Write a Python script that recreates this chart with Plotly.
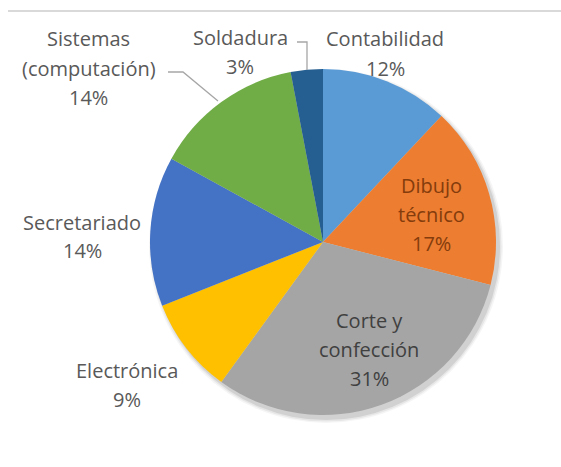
import plotly.graph_objects as go

# ---- data ----
categories = ["Contabilidad", "Dibujo técnico", "Corte y confección", "Electrónica",
              "Secretariado", "Sistemas (computación)", "Soldadura"]
values = [12, 17, 31, 9, 14, 14, 3]
colors = ["#5B9BD5", "#ED7D31", "#A5A5A5", "#FFC000", "#4472C4", "#70AD47", "#255E91"]
label_lines = [
    ["Contabilidad", "12%"],
    ["Dibujo", "técnico", "17%"],
    ["Corte y", "confección", "31%"],
    ["Electrónica", "9%"],
    ["Secretariado", "14%"],
    ["Sistemas", "(computación)", "14%"],
    ["Soldadura", "3%"],
]

W, H = 561, 467
CX, CY, R = 323, 242, 173  # pie placement in pixels


def px(x):
    return x / W


def py(y):
    return 1 - y / H


fig = go.Figure()

fig.add_trace(go.Pie(
    labels=categories,
    values=values,
    sort=False,
    direction="clockwise",
    rotation=0,
    marker=dict(colors=colors, line=dict(width=0)),
    textinfo="none",
    hoverinfo="label+percent",
    showlegend=False,
    domain=dict(x=[px(CX - R), px(CX + R)], y=[py(CY + R), py(CY - R)]),
))

# label placement (pixel centres of the text blocks), line spacing ~29px
label_pos = [
    (385, 39, "#595959"),
    (431, 185, "#843C0C"),
    (369, 320, "#404040"),
    (127, 370, "#595959"),
    (82, 222, "#595959"),
    (89, 39, "#595959"),
    (240, 38, "#595959"),
]
annotations = []
for lines, (x0, y0, col) in zip(label_lines, label_pos):
    for i, t in enumerate(lines):
        annotations.append(dict(
            x=px(x0), y=py(y0 + i * 29), xref="paper", yref="paper",
            text=t, showarrow=False, xanchor="center", yanchor="middle",
            font=dict(family="Open Sans", size=20, color=col),
        ))

shapes = []
# soft shadow under the pie
for k, op in [(8, 0.04), (5, 0.06), (2, 0.09)]:
    shapes.append(dict(
        type="circle", xref="paper", yref="paper", layer="below",
        x0=px(CX - R + 3 - k / 2), x1=px(CX + R + 3 + k / 2),
        y0=py(CY + R + 4 + k / 2), y1=py(CY - R + 4 - k / 2),
        fillcolor=f"rgba(0,0,0,{op})", line=dict(width=0),
    ))
# top border line
shapes.append(dict(type="line", xref="paper", yref="paper",
                   x0=px(8), x1=1, y0=py(11), y1=py(11),
                   line=dict(color="#D9D9D9", width=2)))
# leader lines
shapes.append(dict(type="path", xref="paper", yref="paper",
                   path=f"M {px(168)} {py(72)} L {px(183)} {py(72)} L {px(218)} {py(101)}",
                   line=dict(color="#A6A6A6", width=1.3)))
shapes.append(dict(type="path", xref="paper", yref="paper",
                   path=f"M {px(297)} {py(42)} L {px(307)} {py(42)} L {px(307)} {py(70)}",
                   line=dict(color="#A6A6A6", width=1.3)))

fig.update_layout(
    width=W, height=H,
    margin=dict(l=0, r=0, t=0, b=0),
    paper_bgcolor="white", plot_bgcolor="white",
    annotations=annotations,
    shapes=shapes,
)

fig.write_html("out.html",
               config={"displayModeBar": False},
               post_script="document.body.style.margin='0';document.body.style.overflow='hidden';")
